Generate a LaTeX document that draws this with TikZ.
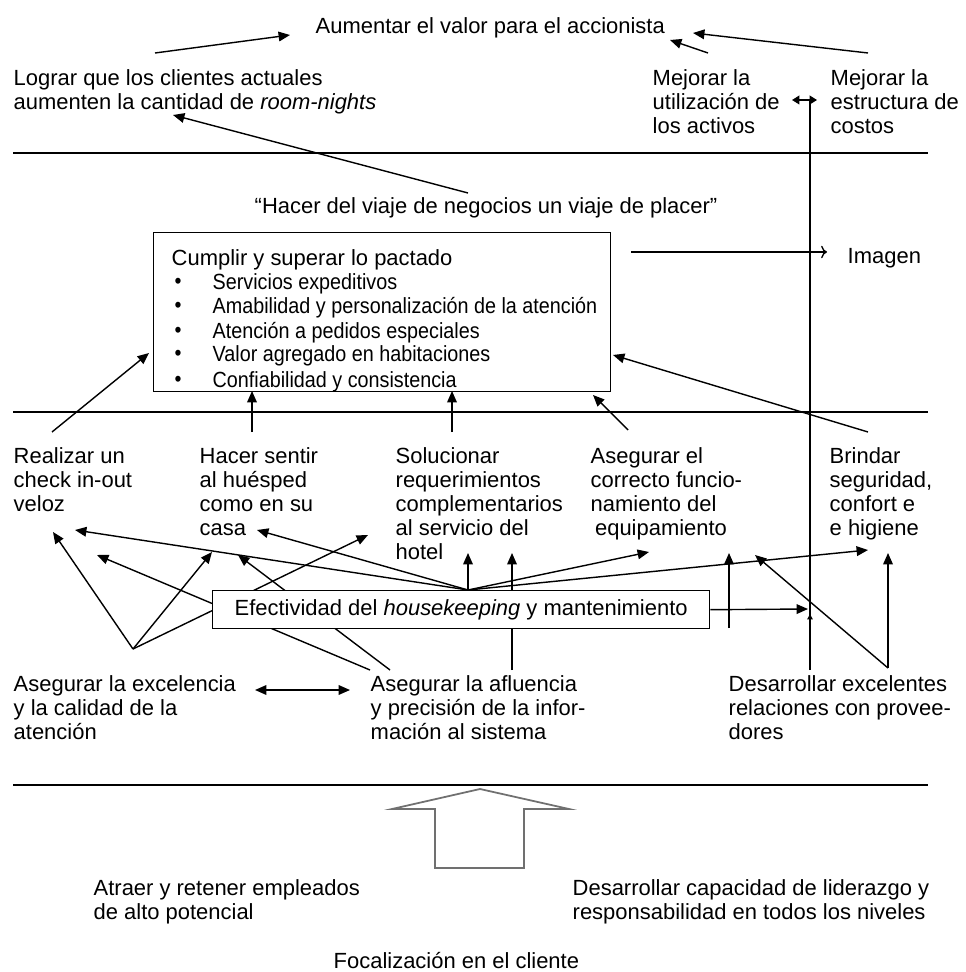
\documentclass[tikz,border=0pt]{standalone}
\usepackage{fontspec}
\setmainfont{Liberation Sans}
\newfontfamily\narrowfont[FakeStretch=0.9]{Liberation Sans}
\usetikzlibrary{arrows.meta, positioning}
\definecolor{gris}{HTML}{707070}

\begin{document}
\begin{tikzpicture}[x=0.02cm, y=-0.02cm, line width=0.8pt,
                    texto/.style={anchor=north west, inner sep=0pt, align=left, font=\fontsize{12.5}{13.6}\selectfont},
                    lista/.style={anchor=north west, inner sep=0pt, font=\narrowfont\fontsize{12.5}{13.6}\selectfont},
                    caja/.style={draw, fill=white, anchor=north west, inner sep=0pt, font=\fontsize{12.5}{13.6}\selectfont},
                    flecha/.style={-{Triangle[length=6.5pt,width=5.5pt]}},
                    doble/.style={{Triangle[length=6.5pt,width=5.5pt]}-{Triangle[length=6.5pt,width=5.5pt]}},
                    doblecorta/.style={{Triangle[length=4.2pt,width=5pt]}-{Triangle[length=4.2pt,width=5pt]}}]

  \useasboundingbox (0,0) rectangle (965,972);

  % perspectiva financiera
  \node[texto] at (315,17)   (accionista) {Aumentar el valor para el accionista};
  \node[texto] at (13,69)    (clientes)   {Lograr que los clientes actuales\\aumenten la cantidad de \textit{room-nights}};
  \node[texto] at (652,69)   (activos)    {Mejorar la\\utilización de\\los activos};
  \node[texto] at (830,69)   (costos)     {Mejorar la\\estructura de\\costos};

  \coordinate (tCli) at (155,53);  \coordinate (hCli) at (290,35);
  \coordinate (tAct) at (708,53);  \coordinate (hAct) at (670,40);
  \coordinate (tCos) at (868,53);  \coordinate (hCos) at (693,33);
  \coordinate (dIzq) at (792,100); \coordinate (dDer) at (817,100);
  \coordinate (tope) at (810,100); \coordinate (pie)  at (810,670);

  \path[flecha] (tCli) edge (hCli)
                (tAct) edge (hAct)
                (tCos) edge (hCos);
  \path[doblecorta] (dIzq) edge (dDer);
  \draw (pie) -- (tope);

  \draw (13,153) -- (928,153);

  % perspectiva del cliente
  \node[texto] at (254,197)  (lema)   {“Hacer del viaje de negocios un viaje de placer”};
  \coordinate (tLema) at (468,193); \coordinate (hLema) at (173,115);
  \path[flecha] (tLema) edge (hLema);

  \node[caja, minimum width=9.14cm, minimum height=3.18cm] at (153,232) (cumplir) {};
  \node[texto] at (171,249)  (pactado) {Cumplir y superar lo pactado};
  \node[lista] at (212,273)  (item1)   {Servicios expeditivos};
  \node[lista] at (212,297)  (item2)   {Amabilidad y personalización de la atención};
  \node[lista] at (212,322)  (item3)   {Atención a pedidos especiales};
  \node[lista] at (212,345)  (item4)   {Valor agregado en habitaciones};
  \node[lista] at (212,371)  (item5)   {Confiabilidad y consistencia};
  \node[lista, anchor=center] at (178,283) (b1) {•};
  \node[lista, anchor=center] at (178,307) (b2) {•};
  \node[lista, anchor=center] at (178,332) (b3) {•};
  \node[lista, anchor=center] at (178,355) (b4) {•};
  \node[lista, anchor=center] at (178,381) (b5) {•};

  \node[texto] at (847,248)  (imagen) {Imagen};
  \coordinate (tImg) at (631,252); \coordinate (hImg) at (827,252);
  \draw[->] (tImg) -- (hImg);

  \draw (13,412) -- (928,412);

  % procesos internos
  \node[texto] at (13,447)   (realizar)   {Realizar un\\check in-out\\veloz};
  \node[texto] at (199,447)  (sentir)     {Hacer sentir\\al huésped\\como en su\\casa};
  \node[texto] at (395,447)  (solucionar) {Solucionar\\requerimientos\\complementarios\\al servicio del\\hotel};
  \node[texto] at (590,447)  (asegurar)   {Asegurar el\\correcto funcio-\\namiento del\\\hspace*{2.5pt}equipamiento};
  \node[texto] at (829,447)  (brindar)    {Brindar\\seguridad,\\confort e\\e higiene};

  \coordinate (tReal) at (52,432);  \coordinate (hReal) at (149,353);
  \coordinate (tSent) at (252,432); \coordinate (hSent) at (252,391);
  \coordinate (tSol)  at (452,432); \coordinate (hSol)  at (452,391);
  \coordinate (tAseg) at (628,430); \coordinate (hAseg) at (593,395);
  \coordinate (tBrin) at (868,432); \coordinate (hBrin) at (613,355);
  \path[flecha] (tReal) edge (hReal)
                (tSent) edge (hSent)
                (tSol)  edge (hSol)
                (tAseg) edge (hAseg)
                (tBrin) edge (hBrin);

  \coordinate (vExc)  at (133,649);
  \coordinate (vAfl1) at (370,670);
  \coordinate (vAfl2) at (390,670);
  \coordinate (vAfl3) at (512,670);
  \coordinate (vProv) at (888,668);
  \coordinate (hub)   at (468,590);
  \coordinate (qEquip) at (729,628);

  \coordinate (pReal1) at (53,532);  \coordinate (pReal2) at (75,530);  \coordinate (pReal3) at (97,555);
  \coordinate (pCasa1) at (212,552); \coordinate (pCasa2) at (238,555); \coordinate (pCasa3) at (257,530);
  \coordinate (pHot1)  at (368,535); \coordinate (pHot2)  at (468,553); \coordinate (pHot3)  at (512,553);
  \coordinate (pEqu1)  at (649,552); \coordinate (pEqu2)  at (729,553); \coordinate (pEqu3)  at (755,555);
  \coordinate (pHig1)  at (868,550); \coordinate (pHig2)  at (888,553);
  \coordinate (pLinea) at (808,609);

  \path[flecha] (vExc)  edge (pReal1)
                        edge (pCasa1)
                        edge (pHot1)
                (vAfl1) edge (pReal3)
                (vAfl2) edge (pCasa2)
                (vAfl3) edge (pHot3);

  \node[caja, minimum width=9.94cm, minimum height=0.76cm] at (212,590) (efectividad)
       {Efectividad del \textit{housekeeping} y mantenimiento};

  \path[flecha] (hub)   edge (pReal2)
                        edge (pCasa3)
                        edge (pHot2)
                        edge (pEqu1)
                        edge (pHig1)
                (qEquip) edge (pEqu2)
                (vProv) edge (pEqu3)
                        edge (pHig2)
                (efectividad.east) edge (pLinea);
  \draw[-{Triangle[length=3pt,width=3pt]}] (810,625) -- (810,614);

  \node[texto] at (13,675)   (excelencia)  {Asegurar la excelencia\\y la calidad de la\\atención};
  \node[texto] at (370,675)  (afluencia)   {Asegurar la afluencia\\y precisión de la infor-\\mación al sistema};
  \node[texto] at (728,675)  (proveedores) {Desarrollar excelentes\\relaciones con provee-\\dores};
  \coordinate (dExc) at (255,690); \coordinate (dAfl) at (350,690);
  \path[doble] (dExc) edge (dAfl);

  \draw (13,785) -- (928,785);

  % aprendizaje y crecimiento
  \draw[gris, line width=1pt] (480,789) -- (569,809) -- (524,809) -- (524,868)
       -- (435,868) -- (435,809) -- (392,809) -- cycle;
  \node[texto] at (93,879)   (atraer)       {Atraer y retener empleados\\de alto potencial};
  \node[texto] at (572,879)  (liderazgo)    {Desarrollar capacidad de liderazgo y\\responsabilidad en todos los niveles};
  \node[texto] at (333,952)  (focalizacion) {Focalización en el cliente};

\end{tikzpicture}
\end{document}
